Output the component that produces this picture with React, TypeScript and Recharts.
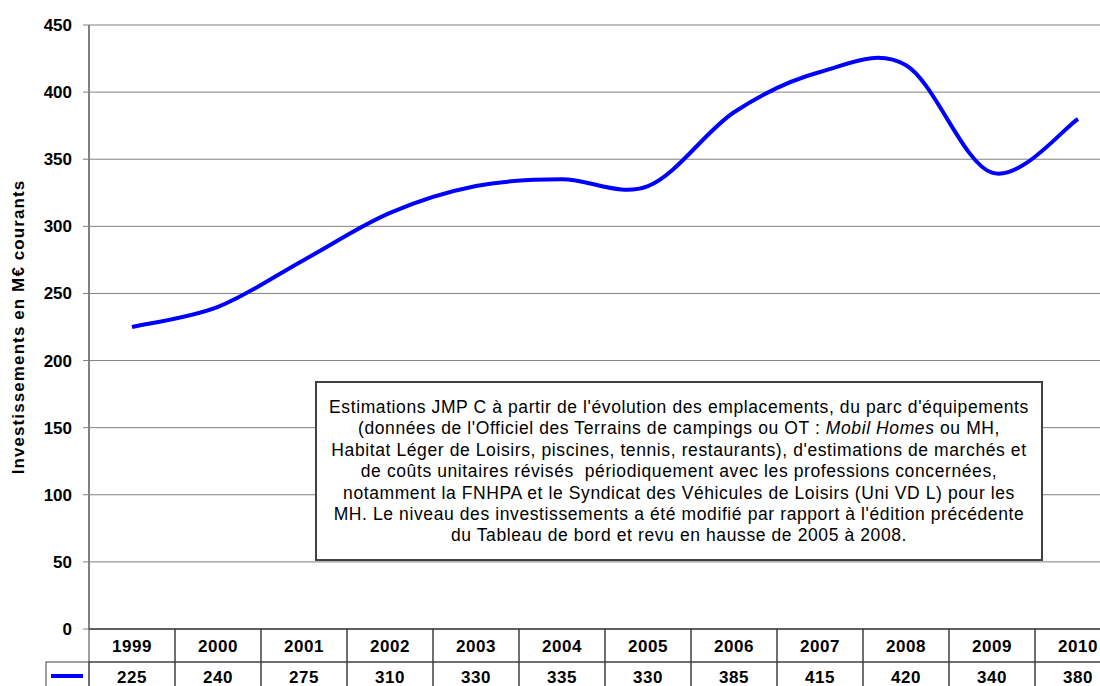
import React from "react"
import { LineChart, Line, XAxis, YAxis, CartesianGrid } from "recharts"

const years = ["1999", "2000", "2001", "2002", "2003", "2004", "2005", "2006", "2007", "2008", "2009", "2010"]
const investments = [225, 240, 275, 310, 330, 335, 330, 385, 415, 420, 340, 380]
const yTicks = [0, 50, 100, 150, 200, 250, 300, 350, 400, 450]

const noteLines = [
  "Estimations JMP C à partir de l'évolution des emplacements, du parc d'équipements",
  "(données de l'Officiel des Terrains de campings ou OT : |Mobil Homes| ou MH,",
  "Habitat Léger de Loisirs, piscines, tennis, restaurants), d'estimations de marchés et",
  "de coûts unitaires révisés  périodiquement avec les professions concernées,",
  "notamment la FNHPA et le Syndicat des Véhicules de Loisirs (Uni VD L) pour les",
  "MH. Le niveau des investissements a été modifié par rapport à l'édition précédente",
  "du Tableau de bord et revu en hausse de 2005 à 2008.",
]

const data = years.map((year, i) => ({ year, value: investments[i] }))

const FONT = "'Liberation Sans', Arial, sans-serif"
const BLUE = "#0000ff"
const CELL = 86

// Excel-like smoothed line (Catmull-Rom through the points)
const smoothCurve = (context: any) => {
  let pts: number[][] = []
  return {
    areaStart() {},
    areaEnd() {},
    lineStart() {
      pts = []
    },
    point(x: number, y: number) {
      pts.push([+x, +y])
    },
    lineEnd() {
      if (!pts.length) return
      context.moveTo(pts[0][0], pts[0][1])
      for (let i = 0; i < pts.length - 1; i++) {
        const p0 = pts[Math.max(i - 1, 0)]
        const p1 = pts[i]
        const p2 = pts[i + 1]
        const p3 = pts[Math.min(i + 2, pts.length - 1)]
        context.bezierCurveTo(
          p1[0] + (p2[0] - p0[0]) / 6,
          p1[1] + (p2[1] - p0[1]) / 6,
          p2[0] - (p3[0] - p1[0]) / 6,
          p2[1] - (p3[1] - p1[1]) / 6,
          p2[0],
          p2[1]
        )
      }
    },
  }
}

const tickText = { fontFamily: FONT, fontWeight: "bold", fontSize: 17, letterSpacing: 0.5, fill: "#000" }

function TableTick(props: any) {
  const { x, y, payload, index } = props
  const left = x - CELL / 2
  const row1 = 33
  const row2 = 40
  return (
    <g>
      <rect x={left} y={y} width={CELL} height={row1} fill="none" stroke="#404040" />
      <rect x={left} y={y + row1} width={CELL} height={row2} fill="none" stroke="#404040" />
      <text x={x} y={y + 17} textAnchor="middle" dominantBaseline="central" {...tickText}>
        {payload.value}
      </text>
      <text x={x} y={y + row1 + 15} textAnchor="middle" dominantBaseline="central" {...tickText}>
        {investments[index]}
      </text>
      {index === 0 && (
        <g>
          <rect x={46} y={y + row1} width={left - 46} height={row2} fill="none" stroke="#404040" />
          <line x1={51} x2={83} y1={y + row1 + 14} y2={y + row1 + 14} stroke={BLUE} strokeWidth={4} />
        </g>
      )}
    </g>
  )
}

function YLabel(props: any) {
  const { viewBox } = props
  const cx = 18
  const cy = viewBox.y + viewBox.height / 2
  return (
    <text
      x={cx}
      y={cy}
      transform={`rotate(-90, ${cx}, ${cy})`}
      textAnchor="middle"
      dominantBaseline="central"
      fontFamily={FONT}
      fontWeight="bold"
      fontSize={17}
      letterSpacing={1.1}
      fill="#000"
    >
      Investissements en M€ courants
    </text>
  )
}

export default function App() {
  return (
    <div style={{ position: "absolute", left: 0, top: 0, width: 1100, height: 686, overflow: "hidden", background: "#fff" }}>
      <LineChart width={1121} height={700} data={data} margin={{ top: 25, right: 0, left: 0, bottom: 0 }}>
        <CartesianGrid vertical={false} stroke="#808080" strokeWidth={1} />
        <XAxis
          dataKey="year"
          padding={{ left: CELL / 2, right: CELL / 2 }}
          height={71}
          tickSize={0}
          tickMargin={0}
          axisLine={{ stroke: "#404040" }}
          tick={<TableTick />}
          interval={0}
        />
        <YAxis
          domain={[0, 450]}
          ticks={yTicks}
          width={89}
          tickSize={6}
          tickMargin={11}
          axisLine={{ stroke: "#808080", strokeWidth: 2 }}
          tickLine={{ stroke: "#808080" }}
          tick={{ fontFamily: FONT, fontWeight: "bold", fontSize: 17, fill: "#000" }}
          label={<YLabel />}
        />
        <Line
          dataKey="value"
          type={smoothCurve as any}
          stroke={BLUE}
          strokeWidth={4}
          dot={false}
          isAnimationActive={false}
        />
      </LineChart>
      <div
        style={{
          position: "absolute",
          left: 315,
          top: 381,
          width: 728,
          height: 180,
          border: "2px solid #404040",
          background: "#fff",
          fontFamily: FONT,
          fontSize: 17.5,
          letterSpacing: 0.6,
          lineHeight: "21.4px",
          textAlign: "center",
          color: "#000",
          paddingTop: 14,
          boxSizing: "border-box",
        }}
      >
        {noteLines.map((line, i) => (
          <div key={i} style={{ whiteSpace: "pre" }}>
            {line.split("|").map((part, j) => (j % 2 === 1 ? <i key={j}>{part}</i> : <span key={j}>{part}</span>))}
          </div>
        ))}
      </div>
    </div>
  )
}
